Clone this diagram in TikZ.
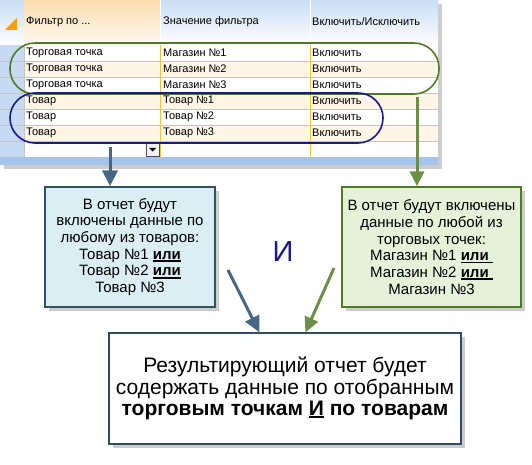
\documentclass[tikz,border=0pt]{standalone}
\usepackage{fontspec}
\setmainfont{Liberation Sans}
\usetikzlibrary{positioning, shadows, arrows.meta}

\definecolor{navyline}{HTML}{1A1A8C}
\definecolor{shopgreen}{HTML}{4F7A28}
\definecolor{arrowblue}{HTML}{4A6685}
\definecolor{arrowgreen}{HTML}{6B8F47}
\definecolor{leftfill}{HTML}{DBEEF4}
\definecolor{leftdraw}{HTML}{34525F}
\definecolor{rightfill}{HTML}{E5F2D9}
\definecolor{resdraw}{HTML}{2F4F5C}
\definecolor{selblue}{HTML}{C6DAF2}
\definecolor{barblue}{HTML}{A6C4EA}
\definecolor{rowcream}{HTML}{FDF6E6}
\definecolor{colorange}{HTML}{F5C242}
\definecolor{gridgray}{HTML}{C4C4C4}
\definecolor{headblue}{HTML}{C8DDF6}
\definecolor{headpeach}{HTML}{FBDDB0}

\newcommand\ulthick[1]{{\setbox0=\hbox{#1}\rlap{\rule[-2.6pt]{\wd0}{1.8pt}}\box0}}

\tikzstyle{softshadow} = [drop shadow={shadow xshift=4pt, shadow yshift=-4pt, opacity=0.4}]
\tikzstyle{notebox}  = [rectangle, text centered, align=center, line width=1.2pt, softshadow, font=\fontsize{15}{16.7}\selectfont]
\tikzstyle{grpbox}   = [rectangle, rounded corners=25pt, line width=1.6pt, inner sep=0pt]
\tikzstyle{headtext} = [anchor=west, inner sep=0pt, font=\fontsize{11}{12}\selectfont]
\tikzstyle{celltext} = [anchor=west, inner sep=0pt, font=\fontsize{11}{12}\selectfont]
\tikzstyle{arrblue}  = [line width=3pt, arrowblue, -{Triangle[width=15pt,length=16pt]}]
\tikzstyle{arrgreen} = [line width=3pt, arrowgreen, -{Triangle[width=14pt,length=15pt]}]

\begin{document}
\begin{tikzpicture}[x=1pt, y=-1pt]
    \useasboundingbox (0,0) rectangle (532,465);

    % filter table
    \fill[white, softshadow] (0,0) rectangle (438,165);
    \fill[selblue] (0,45) rectangle (24,157);
    \shade[top color=headblue, bottom color=white] (0,0) rectangle (438,45);
    \shade[top color=headpeach, bottom color=headpeach!15] (24,0) rectangle (160,45);
    \foreach \r in {2,4,6} \fill[rowcream] (24,{29+16*\r}) rectangle (438,{45+16*\r});
    \foreach \r in {1,...,6} \draw[gridgray] (0,{45+16*\r}) -- (438,{45+16*\r});
    \draw[gridgray] (24,45) -- (24,157);
    \draw[colorange] (160,45) -- (160,157) (310,45) -- (310,157);
    \draw[white, line width=1pt] (160,0) -- (160,45) (310,0) -- (310,45);
    \fill[barblue] (0,157) rectangle (438,165);
    \fill[orange!75!yellow] (5,30) -- (17,30) -- (17,18) -- cycle;

    \node (hfilter) [headtext] at (26,22)  {Фильтр по ...};
    \node (hvalue)  [headtext] at (163,22) {Значение фильтра};
    \node (hmode)   [headtext] at (312,22) {Включить/Исключить};

    \foreach \r/\a/\b in {1/Торговая точка/Магазин №1, 2/Торговая точка/Магазин №2,
                          3/Торговая точка/Магазин №3, 4/Товар/Товар №1,
                          5/Товар/Товар №2, 6/Товар/Товар №3} {
        \node (kind\r)  [celltext] at (26,{37+16*\r})  {\a};
        \node (value\r) [celltext] at (163,{37+16*\r}) {\b};
        \node (mode\r)  [celltext] at (312,{37+16*\r}) {Включить};
    }

    % drop-down button
    \draw[gray!60!black, fill=gray!10] (146,143) rectangle (159,156);
    \fill (149,148) -- (156,148) -- (152.5,151.5) -- cycle;

    % groups
    \node (shops) [grpbox, draw=shopgreen, minimum width=429pt, minimum height=51pt] at (224.5,68.5) {};
    \node (goods) [grpbox, draw=navyline,  minimum width=373pt, minimum height=50pt] at (196.5,118) {};

    % notes
    \node (goodsnote) [notebox, fill=leftfill, draw=leftdraw, minimum width=170pt, minimum height=120pt] at (130,247)
        {В отчет будут\\включены данные по\\любому из товаров:\\Товар №1 \ulthick{\textbf{или}}\\Товар №2 \ulthick{\textbf{или}}\\Товар №3};
    \node (shopsnote) [notebox, fill=rightfill, draw=shopgreen, minimum width=179pt, minimum height=120pt] at (431.5,247)
        {В отчет будут включены\\данные по любой из\\торговых точек:\\Магазин №1 \ulthick{\textbf{или}\ }\\Магазин №2 \ulthick{\textbf{или}\ }\\Магазин №3};
    \node (andsign) [text=navyline, font=\fontsize{29}{30}\selectfont] at (283,252) {И};
    \node (result) [notebox, fill=white, draw=resdraw, minimum width=352pt, minimum height=111pt,
                    font=\fontsize{21}{21.5}\selectfont] at (285,388.5)
        {Результирующий отчет будет\\содержать данные по отобранным\\\textbf{торговым точкам \ulthick{И} по товарам}};

    % arrows
    \coordinate (goodstail) at (110,147);
    \coordinate (shopstail) at (417,97);
    \coordinate (leftslant)  at (228,270);
    \coordinate (rightslant) at (334,268);
    \draw [arrblue]  (goodstail) -- (goodstail |- goodsnote.north);
    \draw [arrgreen] (shopstail) -- (shopstail |- shopsnote.north);
    \draw [arrblue]  (leftslant)  -- ([xshift=151pt]result.north west);
    \draw [arrgreen] (rightslant) -- ([xshift=197pt]result.north west);
\end{tikzpicture}
\end{document}
